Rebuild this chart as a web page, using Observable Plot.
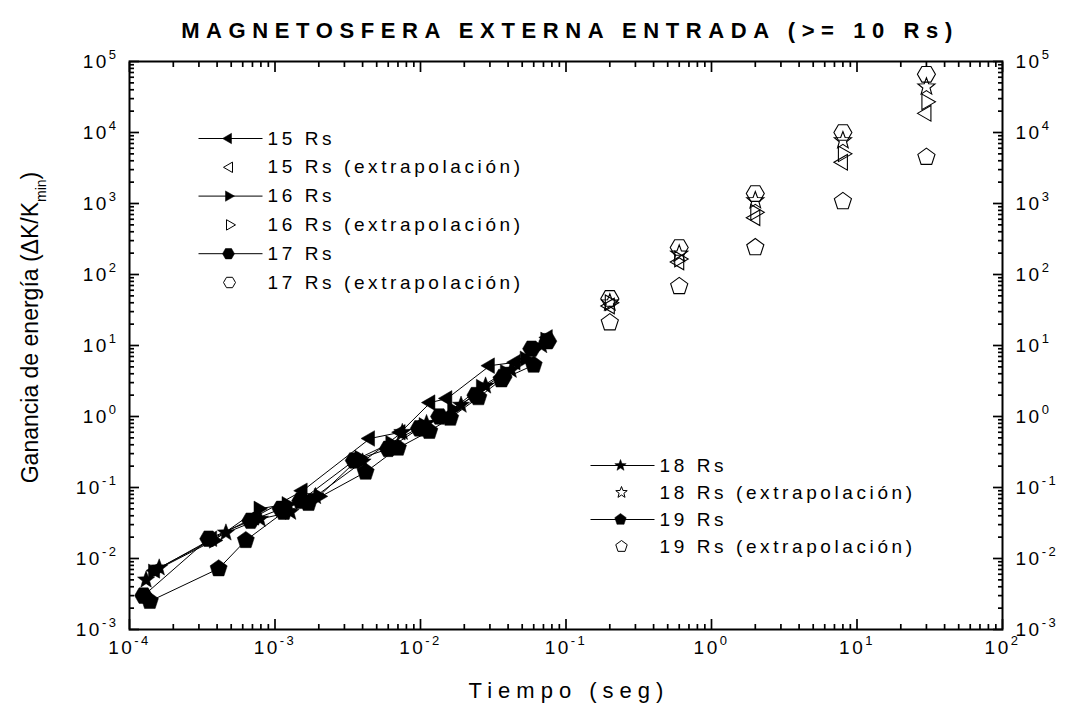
<!DOCTYPE html>
<html>
<head>
<meta charset="utf-8">
<script src="https://cdn.jsdelivr.net/npm/d3@7"></script>
<script src="https://cdn.jsdelivr.net/npm/@observablehq/plot@0.6"></script>
<style>
  body { margin: 0; background: #fff; }
</style>
</head>
<body>
<div id="chart"></div>
<script>
// Simulated energy gain for particles entering the outer magnetosphere (15–19 Rs)
const time15 = [1.5e-4, 3.7e-4, 7.2e-4, 1.55e-3, 4.5e-3, 7.3e-3, 0.0117, 0.0153, 0.030, 0.045, 0.075];
const gain15 = [6.8e-3, 0.019, 0.038, 0.09, 0.49, 0.6, 1.57, 1.8, 5.2, 5.8, 13];

const time16 = [1.45e-4, 3.8e-4, 7.7e-4, 1.2e-3, 2.0e-3, 3.8e-3, 6.2e-3, 0.0105, 0.0165, 0.026, 0.038, 0.052, 0.072];
const gain16 = [6.5e-3, 0.018, 0.05, 0.058, 0.075, 0.26, 0.42, 0.75, 1.25, 2.6, 4.2, 6.5, 12];

const time17 = [1.25e-4, 3.5e-4, 6.8e-4, 1.1e-3, 1.5e-3, 3.5e-3, 6.0e-3, 0.0098, 0.0135, 0.024, 0.037, 0.058, 0.075];
const gain17 = [3.0e-3, 0.019, 0.034, 0.05, 0.065, 0.24, 0.35, 0.68, 1.0, 2.0, 3.6, 9, 11.5];

const time18 = [1.3e-4, 1.6e-4, 4.6e-4, 7.9e-4, 1.28e-3, 1.9e-3, 4.0e-3, 7.5e-3, 0.011, 0.019, 0.028, 0.042, 0.068];
const gain18 = [5.0e-3, 7.4e-3, 0.023, 0.036, 0.045, 0.075, 0.23, 0.6, 0.8, 1.45, 2.7, 4.5, 10];

const time19 = [1.38e-4, 4.1e-4, 6.3e-4, 1.15e-3, 1.7e-3, 4.2e-3, 7.0e-3, 0.0115, 0.016, 0.025, 0.036, 0.060];
const gain19 = [2.5e-3, 7.2e-3, 0.018, 0.045, 0.06, 0.165, 0.36, 0.62, 0.95, 1.85, 3.3, 5.3];

// Extrapolated gains at longer times
const extrapTime = [0.2, 0.6, 2, 8, 30];
const extrap15 = [36, 150, 630, 3800, 18600];
const extrap16 = [40, 165, 750, 5000, 27000];
const extrap17 = [46, 240, 1380, 10000, 66000];
const extrap18 = [40, 195, 1100, 7700, 44000];
const extrap19 = [21, 68, 240, 1070, 4500];

const seriesNames = ["15 Rs", "16 Rs", "17 Rs", "18 Rs", "19 Rs"];
const extrapSuffix = " (extrapolación)";
const titleText = "MAGNETOSFERA EXTERNA ENTRADA (>= 10 Rs)";
const xTitle = "Tiempo (seg)";
const yTitle = "Ganancia de energía (ΔK/K_{min})";

const xMajor = [1e-4, 1e-3, 1e-2, 1e-1, 1e0, 1e1, 1e2];
const yMajor = [1e-3, 1e-2, 1e-1, 1e0, 1e1, 1e2, 1e3, 1e4, 1e5];

// Minor ticks at 2..9 within each decade
const minorTicks = (majors) => majors.slice(0, -1).flatMap(v => d3.range(2, 10).map(m => m * v));
const xMinor = minorTicks(xMajor);
const yMinor = minorTicks(yMajor);

// Regular polygon symbols
const polygon = (n, rot) => ({
  draw(ctx, size) {
    const R = Math.sqrt(size / Math.PI);
    for (let i = 0; i < n; ++i) {
      const a = rot + i * 2 * Math.PI / n;
      const px = R * Math.cos(a), py = R * Math.sin(a);
      i ? ctx.lineTo(px, py) : ctx.moveTo(px, py);
    }
    ctx.closePath();
  }
});
const star5 = {
  draw(ctx, size) {
    const R = Math.sqrt(size / Math.PI), r = R * 0.42;
    for (let i = 0; i < 10; ++i) {
      const a = -Math.PI / 2 + i * Math.PI / 5;
      const rr = i % 2 ? r : R;
      const px = rr * Math.cos(a), py = rr * Math.sin(a);
      i ? ctx.lineTo(px, py) : ctx.moveTo(px, py);
    }
    ctx.closePath();
  }
};
const legendDash = {
  draw(ctx) { ctx.moveTo(-32, 0); ctx.lineTo(32, 0); }
};
const symbols = [
  polygon(3, Math.PI),        // 15 Rs: triangle pointing left
  polygon(3, 0),              // 16 Rs: triangle pointing right
  polygon(6, 0),              // 17 Rs: hexagon
  star5,                      // 18 Rs: star
  polygon(5, -Math.PI / 2)    // 19 Rs: pentagon
];

const times = [time15, time16, time17, time18, time19];
const gains = [gain15, gain16, gain17, gain18, gain19];
const extraps = [extrap15, extrap16, extrap17, extrap18, extrap19];

const simRows = seriesNames.flatMap((name, i) =>
  times[i].map((t, j) => ({series: name, t, g: gains[i][j]})));

const pow10 = d => `10^{${Math.round(Math.log10(d))}}`;

// Inward ticks on all four sides
const tickStyle = {stroke: "black", strokeWidth: 1.7, label: null};
const axes = [
  Plot.axisX({anchor: "bottom", ticks: xMajor, tickSize: -10, tickFormat: () => "", ...tickStyle}),
  Plot.axisX({anchor: "bottom", ticks: xMinor, tickSize: -5, tickFormat: () => "", ...tickStyle}),
  Plot.axisX({anchor: "top", ticks: xMajor, tickSize: -10, tickFormat: () => "", ...tickStyle}),
  Plot.axisX({anchor: "top", ticks: xMinor, tickSize: -5, tickFormat: () => "", ...tickStyle}),
  Plot.axisY({anchor: "left", ticks: yMajor, tickSize: -10, tickFormat: () => "", ...tickStyle}),
  Plot.axisY({anchor: "left", ticks: yMinor, tickSize: -5, tickFormat: () => "", ...tickStyle}),
  Plot.axisY({anchor: "right", ticks: yMajor, tickSize: -10, tickFormat: () => "", ...tickStyle}),
  Plot.axisY({anchor: "right", ticks: yMinor, tickSize: -5, tickFormat: () => "", ...tickStyle}),
  Plot.axisX({anchor: "bottom", ticks: xMajor, tickSize: 0, tickPadding: 11, tickFormat: pow10, fontSize: 19, label: null}),
  Plot.axisY({anchor: "left", ticks: yMajor, tickSize: 0, tickPadding: 11, tickFormat: pow10, fontSize: 19, label: null}),
  Plot.axisY({anchor: "right", ticks: yMajor, tickSize: 0, tickPadding: 13, tickFormat: pow10, fontSize: 19, label: null})
];

// Data marks: joined simulation points and open extrapolated points
const dataMarks = [
  Plot.line(simRows, {x: "t", y: "g", z: "series", stroke: "black", strokeWidth: 1}),
  ...seriesNames.map((name, i) =>
    Plot.dot(simRows.filter(d => d.series === name), {
      x: "t", y: "g", symbol: symbols[i], r: 9, fill: "black", stroke: "black", strokeWidth: 0.5
    })),
  ...seriesNames.map((name, i) =>
    Plot.dot(extrapTime, {
      x: d => d, y: (d, j) => extraps[i][j], symbol: symbols[i], r: 9,
      fill: "none", stroke: "black", strokeWidth: 1.1
    }))
];

// Legends inside the frame
const legendBlocks = [
  {series: [0, 1, 2], dx: 69, dy: 77, step: 28.8},
  {series: [3, 4], dx: 461, dy: 404, step: 27}
];
const legendText = {frameAnchor: "top-left", text: d => d, textAnchor: "start", lineAnchor: "middle", fontSize: 19};
const legendMarks = legendBlocks.flatMap(({series, dx, dy, step}) =>
  series.flatMap((s, k) => {
    const yFilled = dy + (2 * k) * step, yOpen = dy + (2 * k + 1) * step;
    return [
      Plot.dot([0], {frameAnchor: "top-left", dx: dx + 32, dy: yFilled, symbol: legendDash, r: 1, fill: "none", stroke: "black", strokeWidth: 1}),
      Plot.dot([0], {frameAnchor: "top-left", dx: dx + 30, dy: yFilled, symbol: symbols[s], r: 6, fill: "black", stroke: "black", strokeWidth: 0.5}),
      Plot.dot([0], {frameAnchor: "top-left", dx: dx + 31, dy: yOpen, symbol: symbols[s], r: 6, fill: "none", stroke: "black", strokeWidth: 1}),
      Plot.text([seriesNames[s]], {...legendText, dx: dx + 69, dy: yFilled}),
      Plot.text([seriesNames[s] + extrapSuffix], {...legendText, dx: dx + 69, dy: yOpen})
    ];
  }));

const titleMarks = [
  Plot.text([titleText], {frameAnchor: "top", dy: -31, dx: 4, text: d => d, textAnchor: "middle", lineAnchor: "middle", fontSize: 22, fontWeight: "bold"}),
  Plot.text([xTitle], {frameAnchor: "bottom", dy: 61, dx: 3, text: d => d, textAnchor: "middle", lineAnchor: "middle", fontSize: 22}),
  Plot.text([yTitle], {frameAnchor: "left", dx: -99, dy: -18, rotate: -90, text: d => d, textAnchor: "middle", lineAnchor: "middle", fontSize: 23})
];

const chart = Plot.plot({
  width: 1073,
  height: 720,
  marginLeft: 129,
  marginRight: 71,
  marginTop: 61,
  marginBottom: 91,
  x: {type: "log", domain: [1e-4, 1e2]},
  y: {type: "log", domain: [1e-3, 1e5]},
  style: {fontFamily: "'Liberation Sans', Arial, sans-serif", color: "black", background: "white", overflow: "visible"},
  marks: [
    ...dataMarks,
    ...legendMarks,
    ...axes,
    Plot.frame({stroke: "black", strokeWidth: 2}),
    ...titleMarks
  ]
});
document.getElementById("chart").appendChild(chart);

// Letter spacing per kind of text
const legendStrings = new Set(seriesNames.flatMap(n => [n, n + extrapSuffix]));
chart.querySelectorAll("text").forEach(el => {
  const s = el.textContent;
  let ls = null;
  if (s === titleText) ls = "6.6px";
  else if (s === xTitle) ls = "6px";
  else if (legendStrings.has(s)) ls = "3.6px";
  else if (s.startsWith("10^")) ls = "2.5px";
  if (ls) el.style.letterSpacing = ls;
});

// Render ^{...} as superscript and _{...} as subscript
function richText(root) {
  root.querySelectorAll("text").forEach(el => {
    const s = el.textContent;
    if (!/[\^_]\{/.test(s)) return;
    const fs = parseFloat(getComputedStyle(el).fontSize) || 18;
    const parts = s.split(/([\^_]\{[^}]*\})/).filter(Boolean);
    while (el.firstChild) el.removeChild(el.firstChild);
    let offset = 0;
    for (const p of parts) {
      const ts = document.createElementNS("http://www.w3.org/2000/svg", "tspan");
      let target = 0, txt = p;
      if (p[0] === "^") { txt = p.slice(2, -1); target = -0.45 * fs; ts.setAttribute("font-size", Math.round(fs * 0.68)); }
      else if (p[0] === "_") { txt = p.slice(2, -1); target = 0.35 * fs; ts.setAttribute("font-size", Math.round(fs * 0.62)); }
      ts.setAttribute("dy", target - offset);
      offset = target;
      ts.textContent = txt;
      el.appendChild(ts);
    }
  });
}
richText(chart);
</script>
</body>
</html>
